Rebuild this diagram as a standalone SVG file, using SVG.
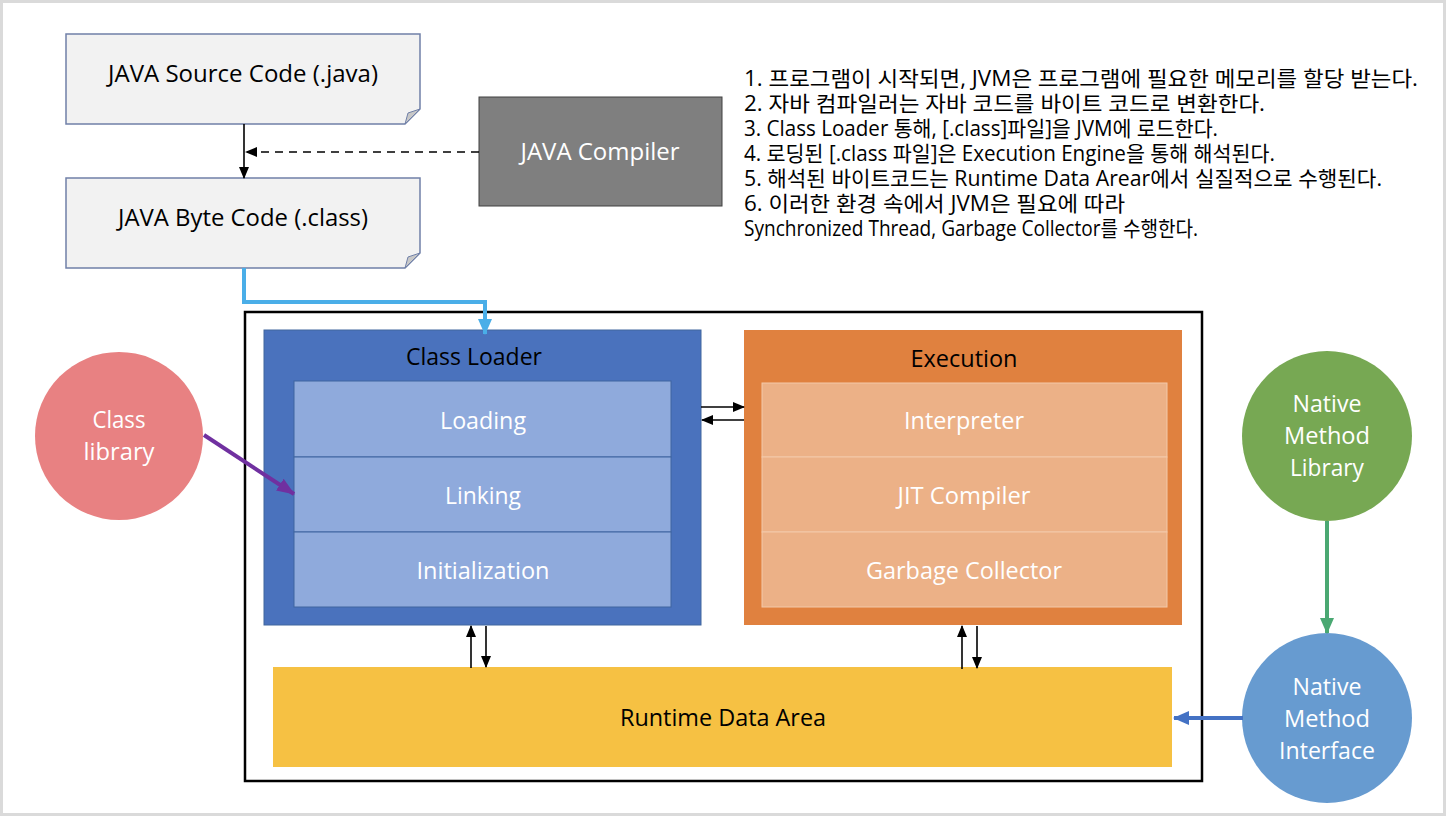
<svg xmlns="http://www.w3.org/2000/svg" width="1446" height="816" viewBox="0 0 1446 816">
<style>
.t{font-family:"Open Sans","Noto Sans CJK KR",sans-serif;text-anchor:middle;font-size:23px}
.w{fill:#ffffff}
.k{fill:#000000}
.note{font-family:"Open Sans","Noto Sans CJK KR",sans-serif;font-size:21px;fill:#000}
.doc{fill:#f2f2f2;stroke:#7080a8;stroke-width:1.5}
.fold{fill:#c8c8c8;stroke:#7080a8;stroke-width:1}
.cl{fill:#8faadc;stroke:#3f64a0;stroke-width:1}
.ex{fill:#ecb187;stroke:#f3c9a9;stroke-width:1}
.bl{stroke:#000;stroke-width:1.6;fill:none}
</style>
<defs>
<marker id="ab" markerUnits="userSpaceOnUse" markerWidth="12" markerHeight="12" viewBox="0 0 12 12" refX="11" refY="6" orient="auto"><path d="M0,1 L12,6 L0,11 Z" fill="#000"/></marker>
<marker id="ablue" markerUnits="userSpaceOnUse" markerWidth="16" markerHeight="16" viewBox="0 0 16 16" refX="15" refY="8" orient="auto"><path d="M0,1 L16,8 L0,15 Z" fill="#4aaee8"/></marker>
<marker id="apur" markerUnits="userSpaceOnUse" markerWidth="18" markerHeight="16" viewBox="0 0 18 16" refX="17" refY="8" orient="auto"><path d="M0,1 L18,8 L0,15 Z" fill="#7030a0"/></marker>
<marker id="agrn" markerUnits="userSpaceOnUse" markerWidth="16" markerHeight="16" viewBox="0 0 16 16" refX="15" refY="8" orient="auto"><path d="M0,1 L16,8 L0,15 Z" fill="#4aa872"/></marker>
<marker id="anav" markerUnits="userSpaceOnUse" markerWidth="16" markerHeight="16" viewBox="0 0 16 16" refX="15" refY="8" orient="auto"><path d="M0,1 L16,8 L0,15 Z" fill="#4472c4"/></marker>
</defs>
<rect x="0" y="0" width="1446" height="816" fill="#ffffff"/>
<rect x="1.5" y="1.5" width="1443" height="813" fill="none" stroke="#dadada" stroke-width="3"/>

<g id="source">
<path class="doc" d="M66,34 H420 V109 L405,124 H66 Z"/>
<path class="fold" d="M405,124 L420,109 L408,113 Z"/>
<text class="t k" x="243" y="82" textLength="270" lengthAdjust="spacingAndGlyphs">JAVA Source Code (.java)</text>
</g>
<g id="bytecode">
<path class="doc" d="M66,178 H420 V253 L405,268 H66 Z"/>
<path class="fold" d="M405,268 L420,253 L408,257 Z"/>
<text class="t k" x="243" y="226" textLength="250" lengthAdjust="spacingAndGlyphs">JAVA Byte Code (.class)</text>
</g>
<g id="compiler">
<rect x="479" y="97" width="243" height="109" fill="#7f7f7f" stroke="#404040" stroke-width="1"/>
<text class="t w" x="600" y="160" textLength="159" lengthAdjust="spacingAndGlyphs">JAVA Compiler</text>
</g>

<g id="notes" class="note">
<text x="744" y="86" textLength="674" lengthAdjust="spacingAndGlyphs">1.  프로그램이 시작되면, JVM은 프로그램에 필요한 메모리를 할당 받는다.</text>
<text x="744" y="111" textLength="521" lengthAdjust="spacingAndGlyphs">2.  자바 컴파일러는 자바 코드를 바이트 코드로 변환한다.</text>
<text x="744" y="136" textLength="474" lengthAdjust="spacingAndGlyphs">3.  Class Loader 통해, [.class]파일]을 JVM에 로드한다.</text>
<text x="744" y="161" textLength="531" lengthAdjust="spacingAndGlyphs">4.  로딩된 [.class 파일]은 Execution Engine을 통해 해석된다.</text>
<text x="744" y="186" textLength="638" lengthAdjust="spacingAndGlyphs">5.  해석된 바이트코드는 Runtime Data Arear에서 실질적으로 수행된다.</text>
<text x="744" y="211" textLength="381" lengthAdjust="spacingAndGlyphs">6.  이러한 환경 속에서 JVM은 필요에 따라</text>
<text x="744" y="236" textLength="454" lengthAdjust="spacingAndGlyphs">Synchronized Thread, Garbage Collector를 수행한다.</text>
</g>

<g id="jvm">
<rect x="245" y="312" width="957" height="469" fill="none" stroke="#000" stroke-width="2.5"/>
</g>

<g id="classloader">
<rect x="264" y="330" width="437" height="295" fill="#4a72bd" stroke="#41679e" stroke-width="1"/>
<text class="t k" x="474" y="365" textLength="136" lengthAdjust="spacingAndGlyphs">Class Loader</text>
<rect class="cl" x="294" y="381" width="377" height="76"/>
<rect class="cl" x="294" y="457" width="377" height="75"/>
<rect class="cl" x="294" y="532" width="377" height="75"/>
<text class="t w" x="483" y="429" textLength="86" lengthAdjust="spacingAndGlyphs">Loading</text>
<text class="t w" x="483" y="504" textLength="76" lengthAdjust="spacingAndGlyphs">Linking</text>
<text class="t w" x="483" y="579" textLength="133" lengthAdjust="spacingAndGlyphs">Initialization</text>
</g>

<g id="execution">
<rect x="744" y="330" width="438" height="295" fill="#e0813f"/>
<text class="t k" x="964" y="367" textLength="107" lengthAdjust="spacingAndGlyphs">Execution</text>
<rect class="ex" x="762" y="383" width="405" height="74"/>
<rect class="ex" x="762" y="457" width="405" height="75"/>
<rect class="ex" x="762" y="532" width="405" height="75"/>
<text class="t w" x="964" y="429" textLength="120" lengthAdjust="spacingAndGlyphs">Interpreter</text>
<text class="t w" x="964" y="504" textLength="133" lengthAdjust="spacingAndGlyphs">JIT Compiler</text>
<text class="t w" x="964" y="579" textLength="196" lengthAdjust="spacingAndGlyphs">Garbage Collector</text>
</g>

<g id="runtime">
<rect x="273" y="667" width="899" height="100" fill="#f6c143"/>
<text class="t k" x="723" y="726" textLength="206" lengthAdjust="spacingAndGlyphs">Runtime Data Area</text>
</g>

<g id="classlibrary">
<circle cx="119" cy="436" r="84" fill="#e88182"/>
<text class="t w" x="119" y="428" textLength="53" lengthAdjust="spacingAndGlyphs">Class</text>
<text class="t w" x="119" y="460" textLength="71" lengthAdjust="spacingAndGlyphs">library</text>
</g>

<g id="nativelib">
<circle cx="1327" cy="436" r="85" fill="#77a853"/>
<text class="t w" x="1327" y="412" textLength="69" lengthAdjust="spacingAndGlyphs">Native</text>
<text class="t w" x="1327" y="444" textLength="86" lengthAdjust="spacingAndGlyphs">Method</text>
<text class="t w" x="1327" y="476" textLength="74" lengthAdjust="spacingAndGlyphs">Library</text>
</g>

<g id="nativeif">
<circle cx="1327" cy="718" r="85" fill="#679bd0"/>
<text class="t w" x="1327" y="695" textLength="69" lengthAdjust="spacingAndGlyphs">Native</text>
<text class="t w" x="1327" y="727" textLength="86" lengthAdjust="spacingAndGlyphs">Method</text>
<text class="t w" x="1327" y="759" textLength="96" lengthAdjust="spacingAndGlyphs">Interface</text>
</g>

<g id="connectors">
<line class="bl" x1="244" y1="124" x2="244" y2="178" marker-end="url(#ab)"/>
<line class="bl" x1="479" y1="152" x2="246" y2="152" stroke-dasharray="8,6" marker-end="url(#ab)"/>
<path d="M244,268 V302 H485 V334" fill="none" stroke="#4aaee8" stroke-width="4" marker-end="url(#ablue)"/>
<line class="bl" x1="701" y1="407" x2="744" y2="407" marker-end="url(#ab)"/>
<line class="bl" x1="744" y1="420" x2="702" y2="420" marker-end="url(#ab)"/>
<line class="bl" x1="471" y1="668" x2="471" y2="626" marker-end="url(#ab)"/>
<line class="bl" x1="486" y1="626" x2="486" y2="667" marker-end="url(#ab)"/>
<line class="bl" x1="962" y1="669" x2="962" y2="626" marker-end="url(#ab)"/>
<line class="bl" x1="977" y1="626" x2="977" y2="668" marker-end="url(#ab)"/>
<line x1="204" y1="435" x2="294" y2="494" stroke="#7030a0" stroke-width="4" marker-end="url(#apur)"/>
<line x1="1327" y1="521" x2="1327" y2="633" stroke="#4aa872" stroke-width="4" marker-end="url(#agrn)"/>
<line x1="1243" y1="718" x2="1174" y2="718" stroke="#4472c4" stroke-width="4" marker-end="url(#anav)"/>
</g>
</svg>
